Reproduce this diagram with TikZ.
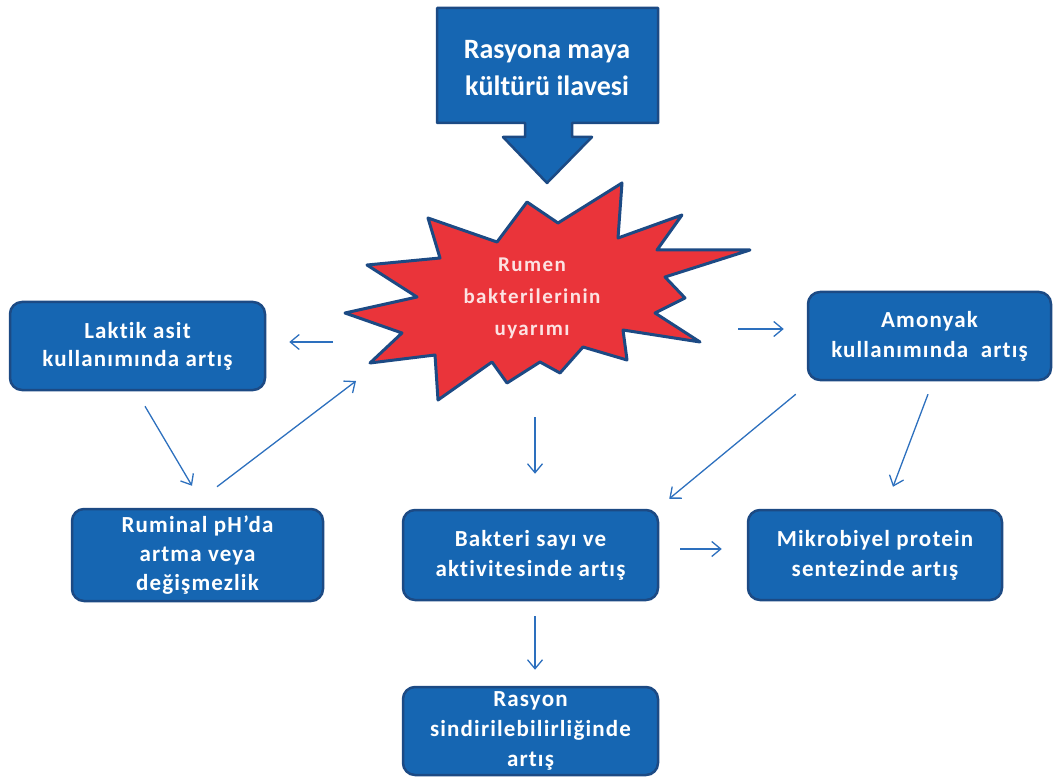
\documentclass[tikz,border=0pt]{standalone}
\usepackage{fontspec}
\setmainfont[Ligatures=NoCommon]{Carlito}
\usetikzlibrary{arrows.meta}
\definecolor{kutumavi}{RGB}{22,102,178}
\definecolor{kenarmavi}{RGB}{28,74,132}
\definecolor{okmavi}{RGB}{45,112,190}
\definecolor{yildizkirmizi}{RGB}{234,52,58}
\definecolor{yazipembe}{RGB}{252,226,226}
\begin{document}
\begin{tikzpicture}[x=1pt,y=-1pt,line join=round,
  kutu/.style={draw=kenarmavi,fill=kutumavi,line width=2.5pt,rounded corners=12pt,text=white,align=center,inner sep=0pt,
    font=\fontsize{23}{30}\selectfont\bfseries\addfontfeature{LetterSpace=5}},
  akis/.style={draw=okmavi,line width=1.3pt,-{Straight Barb[length=9pt,width=15pt]}}]
\useasboundingbox (0,0) rectangle (1053,778);
% top box with arrow
\draw[kenarmavi,fill=kutumavi,line width=2.5pt] (437,8)--(658,8)--(658,123)--(572,123)--(572,137)--(592,137)--(547,183)--(503,137)--(525,137)--(525,123)--(437,123)--cycle;
\node[text=white,align=center,font=\fontsize{28}{37}\selectfont\bfseries] (maya) at (547,68) {Rasyona maya\\kültürü ilavesi};
% star
\draw[kenarmavi,fill=yildizkirmizi,line width=3pt] (527,202)--(558,223)--(622,183)--(618,238)--(682,215)--(657,250)--(750,250)--(665,277)--(685,298)--(655,313)--(700,342)--(623,330)--(627,360)--(583,347)--(560,373)--(540,362)--(507,383)--(492,362)--(438,400)--(435,355)--(370,363)--(402,333)--(345,313)--(417,297)--(367,265)--(440,258)--(428,218)--(497,242)--cycle;
\node[text=yazipembe,align=center,font=\fontsize{21}{32}\selectfont\bfseries\addfontfeature{LetterSpace=7}] (rumen) at (532,298) {Rumen\\bakterilerinin\\uyarımı};
% boxes
\node[kutu,minimum width=255pt,minimum height=88pt,font=\fontsize{23}{28}\selectfont\bfseries\addfontfeature{LetterSpace=5}] (laktik) at (137.5,346) {Laktik asit\\kullanımında artış};
\node[kutu,minimum width=251pt,minimum height=92pt,font=\fontsize{23}{29}\selectfont\bfseries\addfontfeature{LetterSpace=5}] (ruminal) at (197.5,555) {Ruminal pH’da\\artma veya\\değişmezlik};
\node[kutu,minimum width=243pt,minimum height=88pt] (amonyak) at (929.5,336) {Amonyak\\kullanımında~ artış};
\node[kutu,minimum width=255pt,minimum height=90pt] (bakteri) at (530.5,555) {Bakteri sayı ve\\aktivitesinde artış};
\node[kutu,minimum width=254pt,minimum height=90pt] (mikro) at (875,555) {Mikrobiyel protein\\sentezinde artış};
\node[kutu,minimum width=255pt,minimum height=88pt] (rasyon) at (530.5,731) {Rasyon\\sindirilebilirliğinde\\artış};
% arrows
\draw[akis] ([shift={(-199,44)}]rumen.center) -- ([shift={(23,-4)}]laktik.east);
\draw[akis] ([shift={(7.5,15)}]laktik.south) -- ([shift={(-5.5,-22)}]ruminal.north);
\draw[akis] ([shift={(19.5,-21)}]ruminal.north) -- ([shift={(-176,83)}]rumen.center);
\draw[akis] ([shift={(206,31)}]rumen.center) -- ([shift={(-23,-7)}]amonyak.west);
\draw[akis] ([shift={(-11,13)}]amonyak.south west) -- ([shift={(10,-10)}]bakteri.north east);
\draw[akis] ([shift={(-1.5,13)}]amonyak.south) -- ([shift={(18,-22)}]mikro.north);
\draw[akis] ([shift={(21,-6)}]bakteri.east) -- ([shift={(-25,-6)}]mikro.west);
\draw[akis] ([shift={(3,119)}]rumen.center) -- ([shift={(4.5,-35)}]bakteri.north);
\draw[akis] ([shift={(4.5,15)}]bakteri.south) -- ([shift={(4.5,-16)}]rasyon.north);
\end{tikzpicture}
\end{document}
